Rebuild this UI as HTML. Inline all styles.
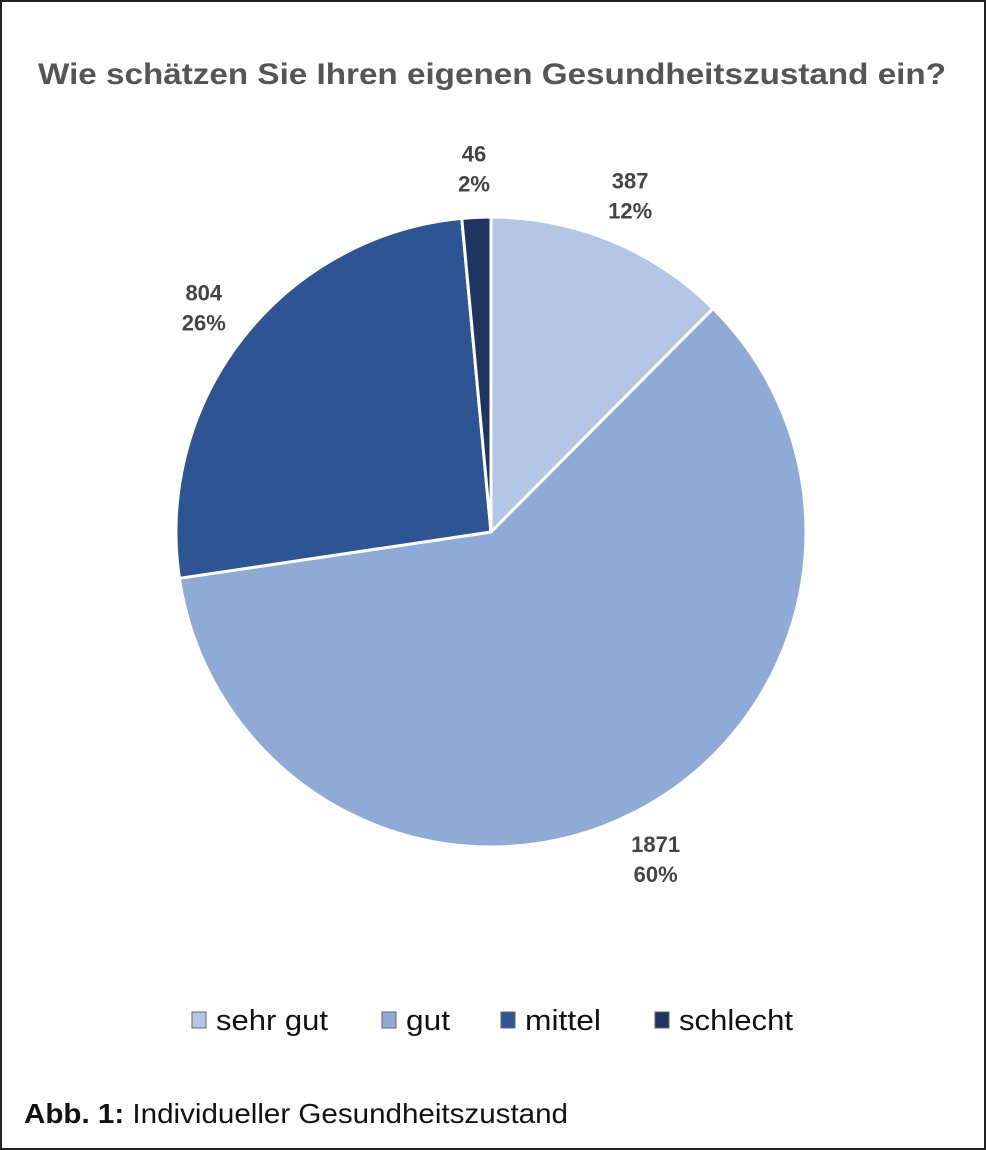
<!DOCTYPE html>
<html><head><meta charset="utf-8"><style>
html,body{margin:0;padding:0;background:#fff}
svg{display:block}
</style></head><body>
<svg width="986" height="1150" viewBox="0 0 986 1150" id="chart" font-family="'Liberation Sans', sans-serif">
<rect x="1" y="1" width="984" height="1148" fill="#fff" stroke="#222" stroke-width="2"/>
<text x="492" y="84" text-anchor="middle" font-size="30" font-weight="bold" fill="#555" textLength="908" lengthAdjust="spacingAndGlyphs">Wie schätzen Sie Ihren eigenen Gesundheitszustand ein?</text>
<g id="slices"></g>
<g id="labels"></g>
<g id="legend"></g>
<text x="24" y="1123" font-size="28" fill="#111" textLength="544" lengthAdjust="spacingAndGlyphs"><tspan font-weight="bold">Abb. 1:</tspan> Individueller Gesundheitszustand</text>
</svg>
<script>
const categories = ["sehr gut", "gut", "mittel", "schlecht"];
const values = [387, 1871, 804, 46];
const percentLabels = ["12%", "60%", "26%", "2%"];
const colors = ["#b4c6e6", "#8faad7", "#2d5593", "#1f3461"];
const NS = "http://www.w3.org/2000/svg";
const cx = 491, cy = 532, r = 315;
const total = values.reduce((a, b) => a + b, 0);
const slices = document.getElementById('slices');
const labels = document.getElementById('labels');
const legend = document.getElementById('legend');
function pt(a, rad) { return [cx + rad * Math.sin(a), cy - rad * Math.cos(a)]; }
let acc = 0;
values.forEach((v, i) => {
  const a0 = acc / total * 2 * Math.PI;
  acc += v;
  const a1 = acc / total * 2 * Math.PI;
  const p0 = pt(a0, r), p1 = pt(a1, r);
  const large = (a1 - a0) > Math.PI ? 1 : 0;
  const path = document.createElementNS(NS, 'path');
  path.setAttribute('d', `M${cx},${cy} L${p0[0]},${p0[1]} A${r},${r} 0 ${large} 1 ${p1[0]},${p1[1]} Z`);
  path.setAttribute('fill', colors[i]);
  path.setAttribute('stroke', '#fff');
  path.setAttribute('stroke-width', '3');
  path.setAttribute('stroke-linejoin', 'round');
  
  
  slices.appendChild(path);
  const mid = (a0 + a1) / 2;
  const lr = v / total < 0.05 ? r + 50 : r + 50;
  const lp = pt(mid, lr);
  const t = document.createElementNS(NS, 'text');
  t.setAttribute('text-anchor', 'middle');
  t.setAttribute('font-size', '22');
  t.setAttribute('font-weight', 'bold');
  t.setAttribute('fill', '#444');
  
  
  const s1 = document.createElementNS(NS, 'tspan');
  s1.setAttribute('x', lp[0]); s1.setAttribute('y', lp[1] - 6);
  s1.textContent = String(values[i]);
  const s2 = document.createElementNS(NS, 'tspan');
  s2.setAttribute('x', lp[0]); s2.setAttribute('y', lp[1] + 24);
  s2.textContent = percentLabels[i];
  t.appendChild(s1); t.appendChild(s2);
  labels.appendChild(t);
});
const legX = [192, 382, 501, 655];
const legW = [136, 68, 100, 138];
categories.forEach((c, i) => {
  const g = document.createElementNS(NS, 'g');
  
  
  const sq = document.createElementNS(NS, 'rect');
  sq.setAttribute('x', legX[i]); sq.setAttribute('y', 1012);
  sq.setAttribute('width', 14); sq.setAttribute('height', 16);
  sq.setAttribute('fill', colors[i]); sq.setAttribute('stroke', '#666'); sq.setAttribute('stroke-width', '1');
  
  
  const t = document.createElementNS(NS, 'text');
  t.setAttribute('x', legX[i] + 24); t.setAttribute('y', 1030);
  t.setAttribute('font-size', '29'); t.setAttribute('fill', '#111');
  t.setAttribute('textLength', legW[i] - 24);
  t.setAttribute('lengthAdjust', 'spacingAndGlyphs');
  
  
  t.textContent = c;
  g.appendChild(sq); g.appendChild(t);
  legend.appendChild(g);
});
</script>
</body></html>
